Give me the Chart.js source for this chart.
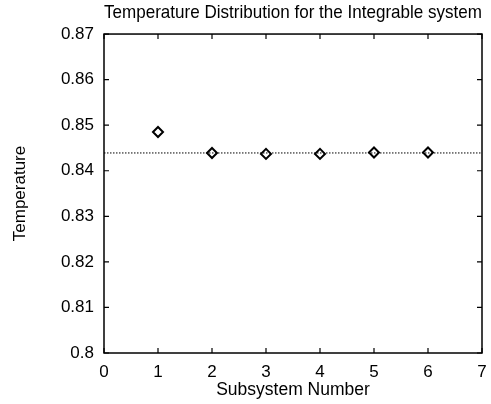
<!DOCTYPE html>
<html>
<head>
<meta charset="utf-8">
<script src="https://cdn.jsdelivr.net/npm/chart.js@4/dist/chart.umd.min.js"></script>
<style>
  html, body { margin: 0; padding: 0; background: #fff; }
  #wrap { width: 491px; height: 404px; }
</style>
</head>
<body>
<div id="wrap"><canvas id="c" width="491" height="404"></canvas></div>
<script>
// ---- data ----
const subsystems = [1, 2, 3, 4, 5, 6];
const temperatures = [0.8485, 0.8439, 0.8437, 0.8437, 0.8440, 0.8440];
const referenceX = [0, 7];
const referenceTemp = 0.8439;
const xTicks = [0, 1, 2, 3, 4, 5, 6, 7];
const yTicks = [0.8, 0.81, 0.82, 0.83, 0.84, 0.85, 0.86, 0.87];
const titleText = 'Temperature Distribution for the Integrable system';
const xTitle = 'Subsystem Number';
const yTitle = 'Temperature';

const FONT = '"Liberation Sans", Arial, Helvetica, sans-serif';

const frameTicks = {
  id: 'frameTicks',
  afterDatasetsDraw(chart) {
    const {ctx, chartArea: a, scales} = chart;
    ctx.save();
    ctx.strokeStyle = '#000';
    ctx.lineWidth = 1.5;
    ctx.strokeRect(a.left, a.top, a.right - a.left, a.bottom - a.top);
    ctx.lineWidth = 1.2;
    const L = 5;
    ctx.beginPath();
    xTicks.forEach(v => {
      const px = scales.x.getPixelForValue(v);
      ctx.moveTo(px, a.bottom); ctx.lineTo(px, a.bottom - L);
      ctx.moveTo(px, a.top); ctx.lineTo(px, a.top + L);
    });
    yTicks.forEach(v => {
      const py = scales.y.getPixelForValue(v);
      ctx.moveTo(a.left, py); ctx.lineTo(a.left + L, py);
      ctx.moveTo(a.right, py); ctx.lineTo(a.right - L, py);
    });
    ctx.stroke();
    ctx.restore();
  }
};

new Chart(document.getElementById('c'), {
  type: 'scatter',
  data: {
    datasets: [
      {
        label: 'reference',
        data: referenceX.map(x => ({x, y: referenceTemp})),
        showLine: true,
        borderColor: '#000',
        borderWidth: 1,
        borderDash: [1.5, 1.5],
        pointRadius: 0,
        fill: false
      },
      {
        label: 'temperature',
        data: subsystems.map((x, i) => ({x, y: temperatures[i]})),
        showLine: false,
        pointStyle: 'rectRot',
        pointRadius: 5,
        pointBackgroundColor: '#fff',
        pointBorderColor: '#000',
        pointBorderWidth: 2
      }
    ]
  },
  options: {
    responsive: false,
    devicePixelRatio: 1,
    animation: false,
    layout: { padding: { left: 0, right: 9, top: 0, bottom: 0 } },
    plugins: {
      legend: { display: false },
      tooltip: { enabled: false },
      title: {
        display: true,
        text: titleText,
        fullSize: false,
        color: '#000',
        font: { family: FONT, size: 17.7, weight: 'normal', lineHeight: 1.2 },
        padding: { top: 2, bottom: 10.8 }
      }
    },
    scales: {
      x: {
        type: 'linear',
        min: 0, max: 7,
        afterBuildTicks: s => { s.ticks = xTicks.map(v => ({value: v})); },
        afterFit: s => { s.height = 51; s.paddingRight = 0; s.paddingLeft = 0; },
        grid: { display: false, drawTicks: false },
        border: { display: false },
        ticks: {
          color: '#000',
          padding: 9,
          maxRotation: 0,
          font: { family: FONT, size: 17 },
          callback: v => String(v)
        },
        title: {
          display: true, text: xTitle, color: '#000',
          font: { family: FONT, size: 17.5, lineHeight: 1.2 },
          padding: { top: 0, bottom: 3 }
        }
      },
      y: {
        type: 'linear',
        min: 0.8, max: 0.87,
        afterBuildTicks: s => { s.ticks = yTicks.map(v => ({value: v})); },
        afterFit: s => { s.width = 104; },
        grid: { display: false, drawTicks: false },
        border: { display: false },
        ticks: {
          color: '#000',
          padding: 10,
          font: { family: FONT, size: 17 },
          callback: v => String(Number(v.toFixed(2)))
        },
        title: {
          display: true, text: yTitle, color: '#000',
          font: { family: FONT, size: 17, lineHeight: 1.2 },
          padding: { top: 10, bottom: 0 }
        }
      }
    }
  },
  plugins: [frameTicks]
});
</script>
</body>
</html>
